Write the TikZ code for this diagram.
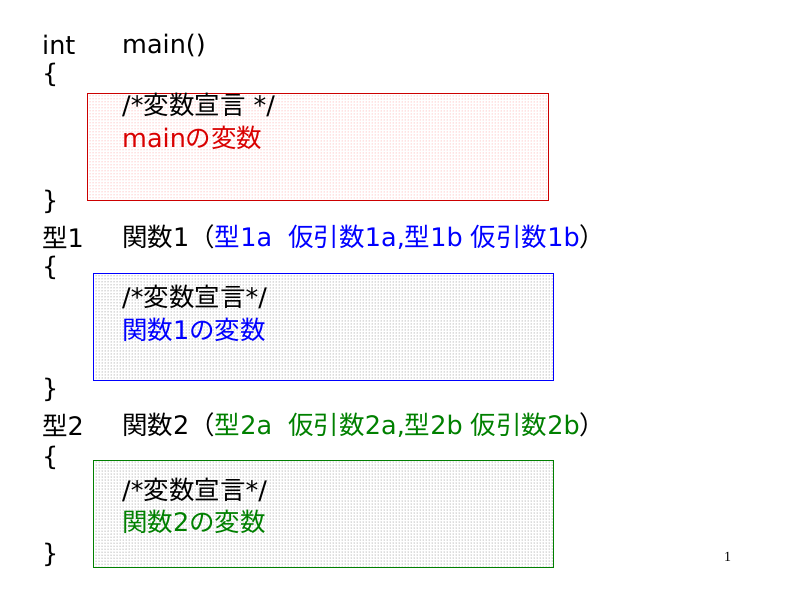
\documentclass[tikz,border=0pt]{standalone}
\usepackage{fontspec}
\setmainfont{DejaVu Sans}
\newfontfamily\cjk{Noto Sans CJK JP}
\newcommand\J[1]{{\cjk #1}}
\newfontfamily\serifone{Liberation Serif}
\usetikzlibrary{patterns}
\definecolor{dgreen}{RGB}{0,128,0}
\begin{document}
\begin{tikzpicture}[x=1pt,y=-1pt,
  t/.style={anchor=west,inner sep=0pt,font=\fontsize{25.5}{27}\selectfont},
  box/.style={pattern=dots,line width=0.8pt}]
\useasboundingbox (0,0) rectangle (800,600);
\path[box,draw=red!80!black,pattern color=red!50] (87,93) rectangle (548,200);
\path[box,draw=blue,pattern color=black!60] (93,273) rectangle (553,380);
\path[box,draw=dgreen,pattern color=black!60] (93,460) rectangle (553,567);
\node[t] (a1) at (42,45) {int};
\node[t] (a2) at (122,45) {main()};
\node[t] (a3) at (42,75) {\{};
\node[t] (a4) at (122,105) {/*\J{変数宣言} */};
\node[t,text=red!85!black] (a5) at (122,138) {main\J{の変数}};
\node[t] (a6) at (42,202) {\}};
\node[t] (b1) at (42,237) {\J{型}1};
\node[t] (b2) at (122,237) {\J{関数}1\J{（}\textcolor{blue}{\J{型}1a\ \ \J{仮引数}1a,\J{型}1b \J{仮引数}1b}\J{）}};
\node[t] (b3) at (42,268) {\{};
\node[t] (b4) at (122,297) {/*\J{変数宣言}*/};
\node[t,text=blue] (b5) at (122,330) {\J{関数}1\J{の変数}};
\node[t] (b6) at (42,390) {\}};
\node[t] (c1) at (42,425) {\J{型}2};
\node[t] (c2) at (122,425) {\J{関数}2\J{（}\textcolor{dgreen}{\J{型}2a\ \ \J{仮引数}2a,\J{型}2b \J{仮引数}2b}\J{）}};
\node[t] (c3) at (42,458) {\{};
\node[t] (c4) at (122,490) {/*\J{変数宣言}*/};
\node[t,text=dgreen] (c5) at (122,522) {\J{関数}2\J{の変数}};
\node[t] (c6) at (42,555) {\}};
\node[anchor=west,inner sep=0pt,font=\serifone\fontsize{14}{15}\selectfont] (p) at (724,557) {1};
\end{tikzpicture}
\end{document}
